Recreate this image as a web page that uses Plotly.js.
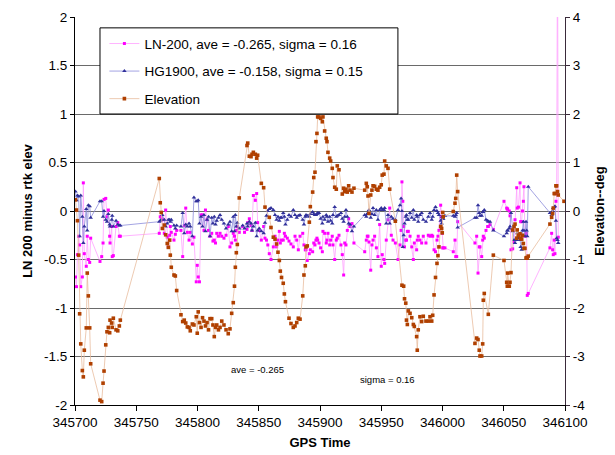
<!DOCTYPE html>
<html>
<head>
<meta charset="utf-8">
<script src="https://cdn.plot.ly/plotly-3.0.1.min.js"></script>
<style>
  html, body { margin: 0; padding: 0; background: #ffffff; }
  #chart { width: 615px; height: 455px; }
</style>
</head>
<body>
<div id="chart"></div>
<script>
// GPS time of each epoch (s)
const gpsTime = [
  345700.4,345701.2,345702.0,345703.0,345703.8,345704.7,345706.0,345706.8,345707.6,345709.2,
  345710.0,345710.9,345712.0,345712.8,345720.4,345721.8,345722.9,345723.7,345725.1,345726.1,
  345727.2,345728.3,345728.6,345730.0,345730.4,345731.3,345733.5,345734.9,345736.2,345737.0,
  345768.8,345769.6,345770.4,345771.3,345772.9,345774.0,345775.3,345776.2,345777.3,345777.8,
  345778.6,345780.8,345781.9,345783.0,345786.5,345787.9,345789.2,345790.4,345791.7,345793.1,
  345794.1,345795.8,345797.1,345799.0,345799.8,345800.6,345801.6,345802.9,345804.1,345805.3,
  345806.5,345807.8,345809.0,345810.2,345811.6,345812.6,345813.7,345814.7,345815.7,345817.1,
  345818.4,345819.8,345821.6,345823.3,345825.1,345826.5,345827.9,345829.2,345830.2,345830.9,
  345831.7,345832.5,345834.1,345836.9,345838.4,345840.4,345841.0,345842.3,345843.7,345844.5,
  345845.6,345847.2,345848.3,345849.1,345850.4,345852.1,345854.0,345855.1,345856.3,345857.4,
  345858.6,345860.0,345861.9,345863.3,345864.6,345865.7,345866.8,345867.6,345868.6,345870.0,
  345870.9,345871.8,345873.3,345874.7,345876.3,345878.2,345879.6,345881.0,345882.3,345883.7,
  345885.9,345886.9,345888.0,345888.6,345889.6,345891.3,345892.1,345894.0,345894.9,345895.9,
  345896.7,345897.5,345898.1,345899.2,345900.5,345901.9,345902.4,345903.8,345905.1,345905.7,
  345906.5,345907.9,345908.7,345910.0,345910.6,345912.0,345913.3,345914.1,345915.5,345917.1,
  345918.2,345919.3,345920.2,345921.2,345922.3,345923.4,345924.5,345926.1,345927.7,
  345936.5,345937.8,345938.6,345939.2,345940.0,345941.4,345942.4,345943.3,345944.6,345946.0,
  345947.3,345948.7,345950.0,345950.8,345952.2,345952.8,345954.1,345955.5,345956.9,345958.2,
  345959.6,345961.5,345963.7,345965.3,345966.2,345966.9,345967.6,345968.3,345969.0,345970.0,
  345970.6,345971.3,345972.1,345973.5,345974.9,345976.2,345977.0,345978.9,345979.4,345980.2,
  345981.6,345983.0,345984.3,345986.5,345988.4,345989.8,345991.2,345992.0,345993.1,345994.3,
  345995.5,345996.3,345997.1,345998.5,345999.3,345999.8,346000.2,346000.6,346002.0,346008.8,
  346010.2,346010.8,346011.6,346012.4,
  346026.5,346027.9,346029.0,346030.0,346030.6,346032.0,346032.8,346033.3,346034.1,346035.5,
  346036.9,346037.4,346038.8,346041.5,346050.2,346052.4,346052.9,346053.2,346054.5,346055.1,
  346055.9,346057.3,346058.4,346059.2,346060.6,346061.0,346062.0,346063.3,346063.8,346064.6,
  346065.3,346066.0,346066.5,346067.3,346068.2,346068.7,346069.2,346070.0,346087.7,346089.1,
  346089.9,346090.4,346091.2,346091.8,346092.6,346093.2,346093.9,346094.5,346099.2
];

// LN-200 minus rtk elevation (m)
const ln200 = [
  -0.68,-0.78,-0.45,-0.26,-0.35,-0.78,-0.68,0.29,-0.44,-0.57,
  -0.26,-0.50,-0.53,-0.28,-0.52,-0.47,-0.33,0.12,0.13,-0.06,
  0.01,-0.26,-0.33,-0.16,-0.47,-0.46,-0.16,-0.12,-0.26,-0.26,
  -0.23,-0.06,-0.06,-0.09,-0.23,0.01,-0.27,-0.37,-0.25,-0.16,
  -0.22,-0.30,-0.24,-0.20,-0.20,-0.47,-0.15,0.03,-0.22,-0.30,
  -0.22,-0.34,-0.27,-0.73,-0.56,-0.68,-0.73,-0.04,-0.04,-0.20,
  0.01,-0.09,-0.20,-0.26,-0.23,-0.31,-0.30,-0.33,-0.23,-0.26,
  -0.23,-0.26,-0.28,-0.25,-0.16,-0.37,-0.33,-0.23,-0.26,-0.30,
  -0.20,-0.16,-0.22,-0.16,-0.22,-0.19,-0.12,-0.08,-0.15,-0.20,
  0.16,0.11,0.18,-0.12,-0.20,-0.30,-0.16,-0.28,-0.30,-0.35,
  -0.44,-0.50,-0.37,-0.26,-0.37,-0.30,-0.21,-0.33,-0.30,-0.30,
  -0.23,-0.26,-0.28,-0.31,-0.34,-0.37,-0.26,-0.30,-0.40,-0.26,
  -0.23,-0.35,-0.40,-0.40,-0.51,-0.44,-0.40,-0.42,-0.33,-0.35,
  -0.30,-0.28,-0.30,-0.33,-0.38,-0.42,-0.21,-0.23,-0.33,-0.30,
  -0.23,-0.35,-0.30,-0.26,-0.35,-0.50,-0.30,-0.28,-0.25,-0.35,
  -0.45,-0.66,-0.33,-0.35,-0.20,-0.08,-0.16,-0.13,-0.33,
  -0.42,-0.30,-0.26,-0.26,-0.32,-0.61,-0.35,-0.30,-0.26,-0.38,
  -0.47,-0.14,-0.57,-0.45,-0.50,-0.54,-0.30,-0.09,0.03,-0.25,
  -0.30,-0.33,-0.50,-0.35,-0.20,0.30,0.10,-0.16,-0.37,-0.30,
  -0.30,-0.21,-0.21,-0.26,-0.37,-0.50,-0.33,-0.40,-0.30,-0.26,
  -0.30,-0.33,-0.26,-0.33,-0.25,-0.26,-0.25,-0.26,-0.40,-0.42,
  -0.30,-0.26,-0.20,0.06,-0.06,-0.23,-0.38,-0.38,-0.38,-0.42,
  -0.30,-0.47,-0.47,-0.11,
  -0.33,-0.26,-0.64,-0.37,-0.37,-0.47,-0.30,-0.26,-0.28,-0.20,
  -0.16,-0.16,-0.14,-0.19,0.10,0.03,0.02,0.02,0.00,-0.05,
  -0.40,-0.39,-0.32,-0.09,0.24,0.03,0.04,0.29,-0.11,-0.11,
  0.00,0.10,0.25,-0.26,-0.23,-0.23,-0.87,-0.85,-0.38,-0.23,
  -0.40,-0.45,-0.30,-0.44,0.10,0.18,2.90,-0.27,null
];

// HG1900 minus rtk elevation (m)
const hg1900 = [
  0.20,0.11,0.16,0.15,-0.26,0.16,-0.06,-0.33,-0.16,0.02,
  -0.20,0.06,0.05,-0.07,0.10,0.10,-0.06,0.00,-0.09,-0.11,
  -0.03,-0.14,-0.16,-0.09,-0.05,-0.16,-0.10,-0.14,-0.15,-0.15,
  -0.11,-0.10,-0.09,-0.04,-0.09,-0.16,-0.13,-0.09,-0.09,-0.11,
  -0.09,-0.15,-0.18,-0.15,-0.16,-0.02,-0.23,-0.14,-0.16,-0.13,
  -0.16,-0.26,0.14,0.10,0.10,0.11,-0.13,-0.06,-0.16,-0.04,
  -0.21,-0.09,-0.06,-0.26,-0.07,-0.13,-0.06,-0.14,-0.10,-0.07,
  -0.04,-0.09,-0.13,-0.18,-0.14,-0.11,-0.21,-0.06,-0.21,-0.04,
  -0.16,-0.12,-0.18,-0.15,-0.18,-0.13,-0.16,-0.11,-0.13,-0.20,
  -0.16,-0.12,-0.26,-0.20,-0.18,-0.21,-0.23,-0.12,-0.05,0.00,
  0.02,0.03,0.01,-0.04,-0.09,-0.06,-0.10,-0.07,-0.07,-0.02,
  -0.06,-0.14,-0.09,-0.04,-0.06,0.01,-0.04,-0.07,-0.05,-0.04,
  -0.09,-0.14,-0.06,-0.04,-0.05,-0.06,-0.03,-0.01,-0.03,-0.04,
  -0.04,-0.03,-0.02,-0.02,-0.08,-0.13,-0.06,-0.09,-0.04,-0.06,
  -0.11,-0.06,-0.10,-0.13,-0.04,0.04,-0.06,-0.05,-0.04,-0.02,
  -0.08,-0.11,-0.06,0.01,-0.06,-0.13,-0.14,-0.21,-0.16,
  -0.04,-0.06,-0.03,-0.02,0.01,-0.07,-0.03,0.03,-0.04,0.01,
  -0.09,0.01,0.03,0.01,0.01,0.03,-0.13,-0.04,-0.13,-0.06,
  -0.08,-0.09,0.01,0.06,0.13,0.00,-0.37,-0.25,-0.13,-0.06,
  -0.04,-0.09,-0.09,-0.02,-0.07,0.01,-0.09,-0.04,-0.06,-0.11,
  -0.04,-0.02,-0.09,-0.11,-0.06,-0.02,-0.09,-0.06,0.01,0.04,
  0.00,-0.02,-0.04,-0.10,-0.13,-0.06,-0.08,-0.08,-0.05,-0.05,
  -0.06,-0.04,-0.02,-0.17,
  -0.07,-0.07,0.06,-0.02,-0.05,-0.05,-0.01,-0.01,0.01,-0.09,
  -0.10,-0.11,-0.11,-0.20,-0.26,-0.23,-0.20,-0.20,-0.18,-0.16,
  -0.02,-0.21,-0.30,-0.33,-0.30,-0.23,-0.28,-0.30,-0.37,-0.40,
  -0.20,-0.11,-0.20,-0.26,-0.11,-0.20,-0.26,0.25,-0.02,-0.04,
  0.00,0.03,0.04,0.05,-0.10,-0.28,-0.30,-0.33,null
];

// Satellite elevation (deg), right-hand axis
const elevation = [
  0.23,0.02,-0.20,-0.91,-2.12,-2.74,-3.29,-3.42,-2.87,-2.41,
  -1.28,-1.75,-2.41,-3.15,-3.90,-3.93,-3.55,-3.30,-2.76,-2.49,
  -2.40,-2.51,-2.25,-2.31,-2.40,-2.21,-2.45,-2.47,-2.37,-2.25,
  0.67,0.17,-0.03,-0.36,-0.29,-0.49,-0.67,-0.75,-0.60,-0.91,
  -1.16,-1.32,-1.34,-1.64,-2.14,-2.28,-2.25,-2.31,-2.39,-2.40,
  -2.47,-2.33,-2.35,-2.18,-2.52,-2.08,-2.30,-2.40,-2.20,-2.27,
  -2.37,-2.30,-2.45,-2.22,-2.22,-2.35,-2.59,-2.40,-2.35,-2.45,
  -2.40,-2.27,-2.35,-2.45,-2.53,-2.43,-2.11,-1.89,-1.55,-1.16,
  -0.86,-0.69,0.27,null,null,1.35,1.40,1.13,1.12,1.17,
  1.21,1.17,1.09,1.15,null,0.57,0.48,0.08,null,null,
  -0.13,-0.34,-0.54,-0.58,-0.68,-0.85,-1.02,-1.24,-1.37,-1.49,
  -1.71,-1.87,null,-2.21,-2.32,-2.40,-2.37,-2.30,-2.21,-2.23,
  -1.75,-1.32,-1.13,-0.74,-0.72,-0.23,0.09,0.39,0.69,0.80,
  1.43,1.60,1.94,1.94,1.91,1.84,1.94,1.65,1.50,1.43,
  1.21,1.09,1.03,0.88,0.69,0.49,0.45,0.93,0.85,null,
  0.35,0.47,0.40,0.45,0.39,0.52,0.43,0.39,0.47,
  0.43,0.57,0.50,0.31,-0.05,0.33,0.43,0.52,0.51,0.45,
  0.43,0.49,0.54,0.74,0.76,1.03,0.93,0.88,0.45,null,
  null,-0.21,null,null,null,-1.53,null,-1.55,-1.81,-1.90,
  -2.25,-2.34,-2.06,-2.11,-2.20,-2.34,-2.38,-2.59,-2.87,-2.45,
  -2.18,-2.28,-2.17,-2.27,-2.27,-2.18,-2.27,-2.15,-1.73,-1.37,
  -1.08,-0.92,-0.74,-0.32,-0.36,-0.45,-0.03,-0.12,null,-0.01,
  0.16,0.26,0.74,0.40,
  -2.73,-2.62,-2.65,-2.87,-2.99,-2.99,-2.74,-1.84,-1.70,null,
  null,-2.13,null,-0.91,-1.02,-1.47,-1.55,-1.28,-1.55,-1.47,
  -1.27,-0.39,-0.32,-0.27,-0.56,-0.39,-0.50,-0.47,-0.56,-0.58,
  -0.50,-0.67,-0.77,-0.77,-0.97,-0.96,-0.97,-0.93,-0.27,-0.13,
  -0.05,0.06,0.36,0.36,0.52,0.52,0.40,0.33,0.20
];

// Axis ticks
const xTickVals = [345700, 345750, 345800, 345850, 345900, 345950, 346000, 346050, 346100];
const xTickText = ['345700', '345750', '345800', '345850', '345900', '345950', '346000', '346050', '346100'];
const yTickVals = [-2, -1.5, -1, -0.5, 0, 0.5, 1, 1.5, 2];
const yTickText = ['-2', '-1.5', '-1', '-0.5', '0', '0.5', '1', '1.5', '2'];
const y2TickVals = [-4, -3, -2, -1, 0, 1, 2, 3, 4];
const y2TickText = ['-4', '-3', '-2', '-1', '0', '1', '2', '3', '4'];

// Legend labels and statistics notes
const seriesNames = [
  'LN-200, ave = -0.265, sigma = 0.16',
  'HG1900, ave = -0.158, sigma = 0.15',
  'Elevation'
];
const noteAve = 'ave = -0.265';
const noteSigma = 'sigma = 0.16';

const FONT = 'Liberation Sans, Arial, Helvetica, sans-serif';

const traces = [
  {
    x: gpsTime, y: ln200, name: seriesNames[0], legendgroup: 'a',
    type: 'scatter', mode: 'lines+markers',
    line: { color: '#FFA0FF', width: 0.8 },
    marker: { symbol: 'square', size: 3, color: '#FF00FF' },
    yaxis: 'y'
  },
  {
    x: gpsTime, y: hg1900, name: seriesNames[1], legendgroup: 'b',
    type: 'scatter', mode: 'lines+markers',
    line: { color: '#8C8CDA', width: 0.8 },
    marker: { symbol: 'triangle-up', size: 4, color: '#30309A' },
    yaxis: 'y'
  },
  {
    x: gpsTime, y: elevation, name: seriesNames[2], legendgroup: 'c',
    type: 'scatter', mode: 'lines+markers', connectgaps: true,
    line: { color: '#E8BC9E', width: 0.8 },
    marker: { symbol: 'square', size: 3.6, color: '#B04000' },
    yaxis: 'y2'
  }
];

const layout = {
  width: 615, height: 455,
  margin: { l: 75, r: 50, t: 17, b: 50 },
  paper_bgcolor: '#ffffff', plot_bgcolor: '#ffffff',
  font: { family: FONT, color: '#000000', size: 13 },
  showlegend: true,
  legend: {
    x: 0.06, y: 0.971, xanchor: 'left', yanchor: 'top',
    bgcolor: 'rgba(0,0,0,0)', borderwidth: 0,
    font: { family: FONT, size: 13.5, color: '#000000' },
    itemwidth: 30, tracegroupgap: 7, traceorder: 'grouped'
  },
  xaxis: {
    range: [345700, 346100],
    tickvals: xTickVals, ticktext: xTickText,
    showgrid: false, zeroline: false,
    showline: true, linecolor: '#000000', linewidth: 1,
    ticks: 'outside', ticklen: 5, tickcolor: '#000000',
    tickfont: { family: FONT, size: 13.5 },
    title: { text: 'GPS Time', font: { family: FONT, size: 13, weight: 'bold' }, standoff: 8 }
  },
  yaxis: {
    range: [-2, 2],
    tickvals: yTickVals, ticktext: yTickText,
    showgrid: true, gridcolor: '#6a6a6a', gridwidth: 1,
    zeroline: false,
    showline: true, linecolor: '#000000', linewidth: 1,
    ticks: 'outside', ticklen: 4, tickcolor: '#000000',
    tickfont: { family: FONT, size: 13.5 },
    title: { text: 'LN 200 minus rtk elev', font: { family: FONT, size: 13, weight: 'bold' }, standoff: 8 }
  },
  yaxis2: {
    range: [-4, 4], overlaying: 'y', side: 'right',
    tickvals: y2TickVals, ticktext: y2TickText,
    showgrid: false, zeroline: false,
    showline: true, linecolor: '#3a2a3a', linewidth: 1,
    ticks: 'outside', ticklen: 4, tickcolor: '#3a2a3a',
    tickfont: { family: FONT, size: 13.5 },
    title: { text: 'Elevation--deg', font: { family: FONT, size: 13, weight: 'bold' }, standoff: 10 }
  },
  shapes: [
    {
      type: 'rect', xref: 'paper', yref: 'paper', layer: 'above',
      x0: 0.051, x1: 0.659, y0: 0.750, y1: 0.972,
      fillcolor: '#ffffff', line: { color: '#000000', width: 1 }
    }
  ],
  annotations: [
    { text: noteAve, xref: 'paper', yref: 'paper', x: 0.373, y: 0.072,
      showarrow: false, font: { family: FONT, size: 9.5, color: '#000000' } },
    { text: noteSigma, xref: 'paper', yref: 'paper', x: 0.637, y: 0.046,
      showarrow: false, font: { family: FONT, size: 9.5, color: '#000000' } }
  ]
};

Plotly.newPlot('chart', traces, layout, { staticPlot: true, displayModeBar: false });
</script>
</body>
</html>
